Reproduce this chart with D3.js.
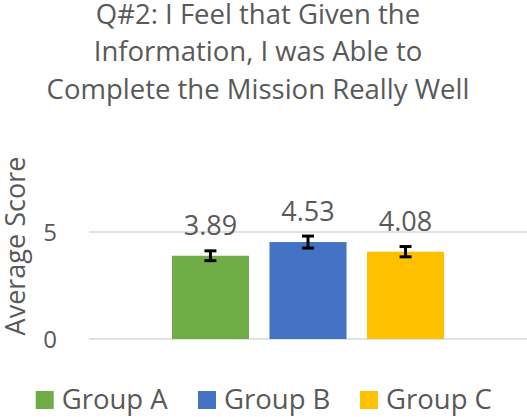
<!DOCTYPE html>
<html>
<head>
<meta charset="utf-8">
<script src="https://cdn.jsdelivr.net/npm/d3@7.9.0/dist/d3.min.js"></script>
<style>
  body { margin: 0; background: #fff; }
  svg text { font-family: "Open Sans", "Noto Sans", sans-serif; fill: #595959; }
</style>
</head>
<body>
<svg id="chart" width="527" height="417"></svg>
<script>
const groups = ['Group A', 'Group B', 'Group C'];
const scores = [3.89, 4.53, 4.08];
const errors = [0.23, 0.28, 0.24];
const colors = ['#70AD47', '#4472C4', '#FFC000'];
const yTicks = [0, 5];
const titleLines = [
  'Q#2: I Feel that Given the',
  'Information, I was Able to',
  'Complete the Mission Really Well'
];

const svg = d3.select('#chart');
const plot = { left: 89, right: 527, top: 232, bottom: 339 };

const x = d3.scaleBand()
  .domain(groups)
  .range([plot.left, plot.right])
  .paddingInner(0.21)
  .paddingOuter(0.85);

const y = d3.scaleLinear()
  .domain([0, 5])
  .range([plot.bottom, plot.top]);

// title
svg.append('g')
  .selectAll('text')
  .data(titleLines)
  .join('text')
  .attr('x', 258)
  .attr('y', (d, i) => 23.5 + i * 37.5)
  .attr('text-anchor', 'middle')
  .attr('font-size', 27.5)
  .text(d => d);

// gridlines
svg.append('g')
  .selectAll('line')
  .data(yTicks)
  .join('line')
  .attr('x1', plot.left)
  .attr('x2', plot.right)
  .attr('y1', d => y(d))
  .attr('y2', d => y(d))
  .attr('stroke', '#D9D9D9')
  .attr('stroke-width', 1.5);

// y tick labels
svg.append('g')
  .selectAll('text')
  .data(yTicks)
  .join('text')
  .attr('x', 57)
  .attr('y', d => y(d))
  .attr('dy', '0.36em')
  .attr('text-anchor', 'end')
  .attr('font-size', 24)
  .text(d => d);

// y axis title
svg.append('text')
  .attr('transform', 'translate(25,246) rotate(-90)')
  .attr('text-anchor', 'middle')
  .attr('font-size', 27)
  .text('Average Score');

// bars
svg.append('g')
  .selectAll('rect')
  .data(groups)
  .join('rect')
  .attr('x', d => x(d))
  .attr('width', x.bandwidth())
  .attr('y', (d, i) => y(scores[i]))
  .attr('height', (d, i) => y(0) - y(scores[i]))
  .attr('fill', (d, i) => colors[i]);

// error bars
const err = svg.append('g')
  .attr('stroke', '#000')
  .attr('stroke-width', 3);

groups.forEach((g, i) => {
  const cx = x(g) + x.bandwidth() / 2;
  const lo = y(scores[i] - errors[i]);
  const hi = y(scores[i] + errors[i]);
  err.append('line').attr('x1', cx).attr('x2', cx).attr('y1', lo).attr('y2', hi);
  err.append('line').attr('x1', cx - 6).attr('x2', cx + 6).attr('y1', lo).attr('y2', lo);
  err.append('line').attr('x1', cx - 6).attr('x2', cx + 6).attr('y1', hi).attr('y2', hi);
});

// data labels
svg.append('g')
  .selectAll('text')
  .data(groups)
  .join('text')
  .attr('x', d => x(d) + x.bandwidth() / 2)
  .attr('y', (d, i) => y(scores[i]) - 21)
  .attr('text-anchor', 'middle')
  .attr('font-size', 27)
  .text((d, i) => scores[i].toFixed(2));

// legend
const legendX = [35.7, 198, 360];
const legend = svg.append('g')
  .selectAll('g')
  .data(groups)
  .join('g')
  .attr('transform', (d, i) => `translate(${legendX[i]},391)`);

legend.append('rect')
  .attr('width', 18)
  .attr('height', 18)
  .attr('fill', (d, i) => colors[i]);

legend.append('text')
  .attr('x', 26)
  .attr('y', 17.5)
  .attr('font-size', 27.5)
  .text(d => d);
</script>
</body>
</html>
